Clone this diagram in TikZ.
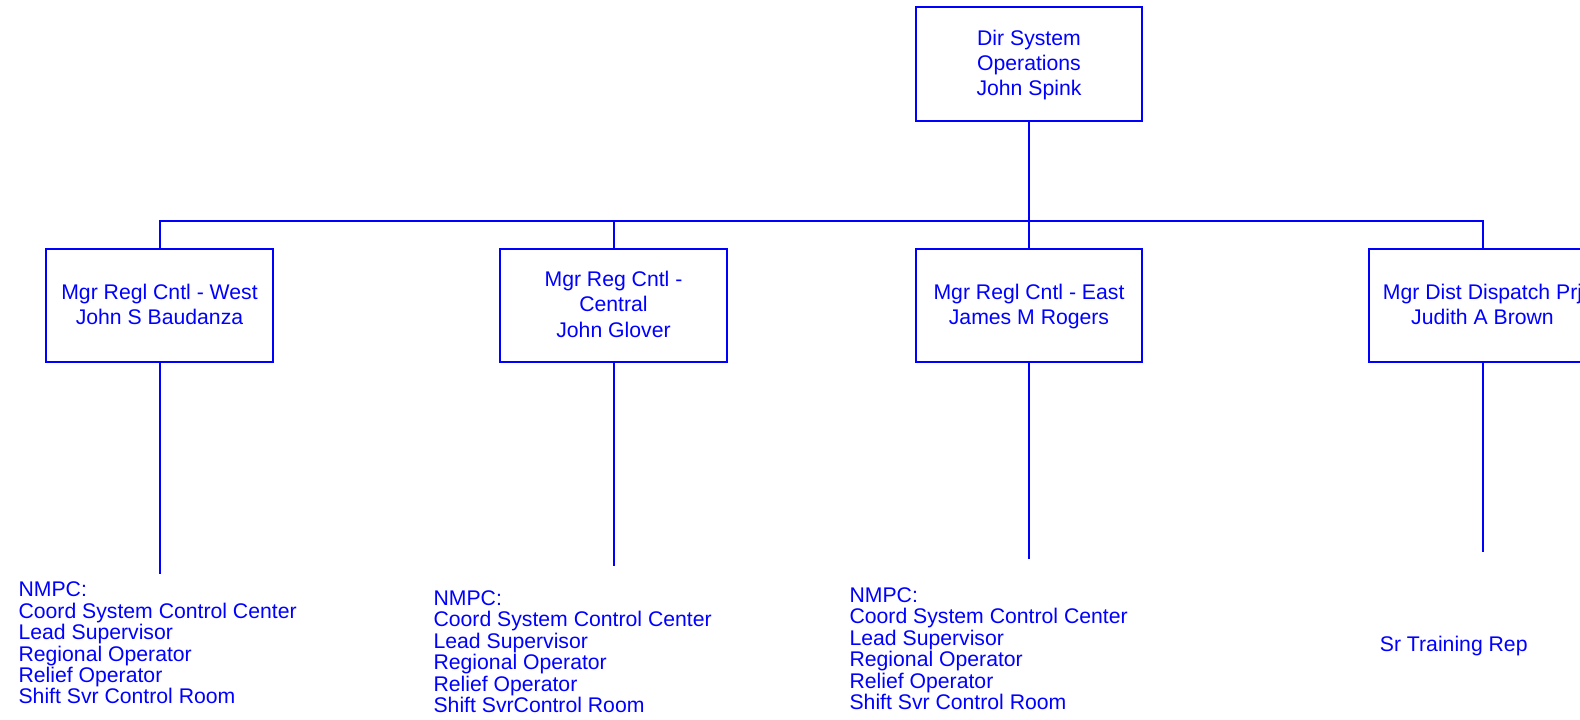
\documentclass[tikz,border=0pt]{standalone}
\usepackage{fontspec}
\setmainfont{Liberation Sans}
\definecolor{orgblue}{RGB}{0,0,255}
\tikzset{
  orgbox/.style={draw=orgblue, line width=2pt, text=orgblue, align=center,
    minimum width=226.6pt, minimum height=113.3pt, inner sep=0pt, text depth=2.5pt,
    font=\fontsize{21.2}{25.3}\selectfont},
  orgline/.style={draw=orgblue, line width=2pt},
  orglist/.style={text=orgblue, align=left, inner sep=0pt, anchor=north west,
    font=\fontsize{21.2}{21.4}\selectfont},
}
\begin{document}
\begin{tikzpicture}[x=1pt,y=-1pt]
\useasboundingbox (0,0) rectangle (1580,720);
\node[orgbox] (top) at (1029,64) {Dir System\\Operations\\John Spink};
\node[orgbox] (m1) at (159.5,305.5) {Mgr Regl Cntl - West\\John S Baudanza};
\node[orgbox] (m2) at (613.5,305.5) {Mgr Reg Cntl -\\Central\\John Glover};
\node[orgbox] (m3) at (1029,305.5) {Mgr Regl Cntl - East\\James M Rogers};
\node[orgbox] (m4) at (1482.5,305.5) {Mgr Dist Dispatch Prj\\Judith A Brown};
\coordinate (bus) at (0,220.7);
\draw[orgline] (top.south) -- (top.south |- bus) -| (m1.north);
\draw[orgline] (top.south |- bus) -| (m2.north);
\draw[orgline] (top.south |- bus) -- (m3.north);
\draw[orgline] (top.south |- bus) -| (m4.north);
\coordinate (e1) at (159.5,574);
\coordinate (e2) at (613.5,566);
\coordinate (e3) at (1029,559.3);
\coordinate (e4) at (1482.5,552);
\draw[orgline] (m1.south) -- (e1);
\draw[orgline] (m2.south) -- (e2);
\draw[orgline] (m3.south) -- (e3);
\draw[orgline] (m4.south) -- (e4);
\node[orglist] (l1) at (18.4,581.8) {NMPC:\\Coord System Control Center\\Lead Supervisor\\Regional Operator\\Relief Operator\\Shift Svr Control Room};
\node[orglist] (l2) at (433.4,590.5) {NMPC:\\Coord System Control Center\\Lead Supervisor\\Regional Operator\\Relief Operator\\Shift SvrControl Room};
\node[orglist] (l3) at (849.4,587.5) {NMPC:\\Coord System Control Center\\Lead Supervisor\\Regional Operator\\Relief Operator\\Shift Svr Control Room};
\node[orglist, anchor=base west] (l4) at (1379.7,651.7) {Sr Training Rep};
\end{tikzpicture}
\end{document}
